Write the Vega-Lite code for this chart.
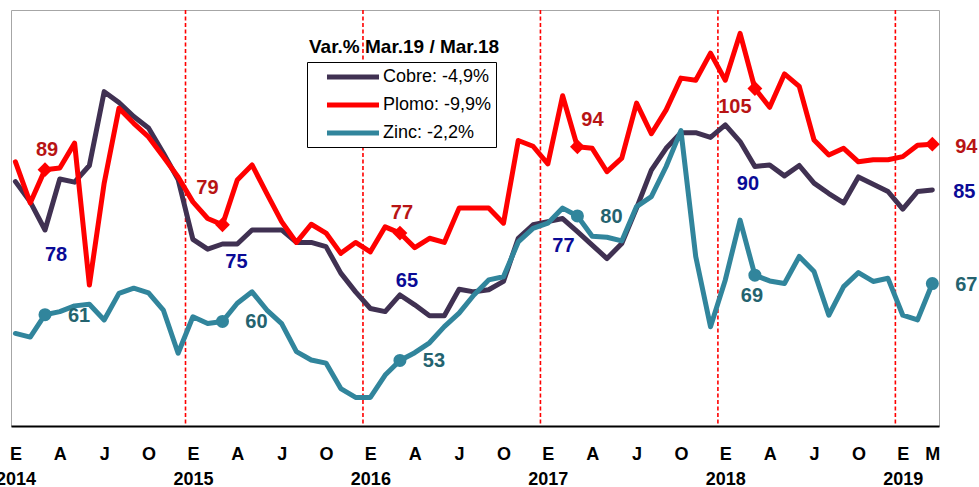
{
  "$schema": "https://vega.github.io/schema/vega-lite/v6.json",
  "width": 928,
  "height": 416,
  "autosize": "none",
  "padding": {"left": 11, "top": 10, "right": 40, "bottom": 61},
  "background": "white",
  "config": {"view": {"stroke": "#a6a6a6", "strokeWidth": 1}, "font": "Liberation Sans"},
  "title": {"text": "Var.% Mar.19 / Mar.18", "anchor": "start", "frame": "group", "orient": "top", "offset": 0, "dx": 298, "dy": 48, "fontSize": 19, "fontWeight": "bold", "color": "black", "font": "Liberation Sans"},
  "datasets": {
    "indices": [
      {"mes": 0, "Cobre": 87.0, "Plomo": 90.8, "Zinc": 57.8},
      {"mes": 1, "Cobre": 83.1, "Plomo": 82.9, "Zinc": 57.1},
      {"mes": 2, "Cobre": 77.7, "Plomo": 89.3, "Zinc": 61.4},
      {"mes": 3, "Cobre": 87.5, "Plomo": 89.6, "Zinc": 62.0},
      {"mes": 4, "Cobre": 86.9, "Plomo": 94.4, "Zinc": 63.1},
      {"mes": 5, "Cobre": 90.1, "Plomo": 67.1, "Zinc": 63.4},
      {"mes": 6, "Cobre": 104.3, "Plomo": 86.7, "Zinc": 60.4},
      {"mes": 7, "Cobre": 102.2, "Plomo": 101.1, "Zinc": 65.5},
      {"mes": 8, "Cobre": 99.5, "Plomo": 98.2, "Zinc": 66.5},
      {"mes": 9, "Cobre": 97.3, "Plomo": 95.6, "Zinc": 65.6},
      {"mes": 10, "Cobre": 92.5, "Plomo": 91.8, "Zinc": 62.3},
      {"mes": 11, "Cobre": 87.4, "Plomo": 87.9, "Zinc": 54.0},
      {"mes": 12, "Cobre": 75.9, "Plomo": 83.1, "Zinc": 61.0},
      {"mes": 13, "Cobre": 74.0, "Plomo": 79.9, "Zinc": 59.7},
      {"mes": 14, "Cobre": 75.0, "Plomo": 78.7, "Zinc": 60.1},
      {"mes": 15, "Cobre": 75.0, "Plomo": 87.3, "Zinc": 63.6},
      {"mes": 16, "Cobre": 77.7, "Plomo": 90.2, "Zinc": 65.8},
      {"mes": 17, "Cobre": 77.7, "Plomo": 84.7, "Zinc": 62.3},
      {"mes": 18, "Cobre": 77.7, "Plomo": 79.3, "Zinc": 59.7},
      {"mes": 19, "Cobre": 75.3, "Plomo": 75.3, "Zinc": 54.3},
      {"mes": 20, "Cobre": 75.3, "Plomo": 78.8, "Zinc": 52.7},
      {"mes": 21, "Cobre": 74.5, "Plomo": 77.1, "Zinc": 52.1},
      {"mes": 22, "Cobre": 69.4, "Plomo": 73.2, "Zinc": 47.2},
      {"mes": 23, "Cobre": 65.8, "Plomo": 75.3, "Zinc": 45.5},
      {"mes": 24, "Cobre": 62.6, "Plomo": 73.5, "Zinc": 45.5},
      {"mes": 25, "Cobre": 62.0, "Plomo": 78.3, "Zinc": 49.8},
      {"mes": 26, "Cobre": 65.2, "Plomo": 77.1, "Zinc": 52.6},
      {"mes": 27, "Cobre": 63.3, "Plomo": 74.3, "Zinc": 54.1},
      {"mes": 28, "Cobre": 61.2, "Plomo": 76.1, "Zinc": 56.0},
      {"mes": 29, "Cobre": 61.2, "Plomo": 75.3, "Zinc": 59.1},
      {"mes": 30, "Cobre": 66.3, "Plomo": 81.9, "Zinc": 61.7},
      {"mes": 31, "Cobre": 65.8, "Plomo": 81.9, "Zinc": 65.2},
      {"mes": 32, "Cobre": 66.2, "Plomo": 81.9, "Zinc": 68.1},
      {"mes": 33, "Cobre": 67.8, "Plomo": 79.0, "Zinc": 68.7},
      {"mes": 34, "Cobre": 76.1, "Plomo": 94.9, "Zinc": 75.4},
      {"mes": 35, "Cobre": 78.7, "Plomo": 93.8, "Zinc": 78.0},
      {"mes": 36, "Cobre": 79.3, "Plomo": 90.4, "Zinc": 79.0},
      {"mes": 37, "Cobre": 79.9, "Plomo": 103.5, "Zinc": 81.9},
      {"mes": 38, "Cobre": 77.4, "Plomo": 93.7, "Zinc": 80.4},
      {"mes": 39, "Cobre": 74.8, "Plomo": 93.4, "Zinc": 76.5},
      {"mes": 40, "Cobre": 72.2, "Plomo": 88.9, "Zinc": 76.3},
      {"mes": 41, "Cobre": 75.1, "Plomo": 91.5, "Zinc": 75.6},
      {"mes": 42, "Cobre": 81.9, "Plomo": 102.1, "Zinc": 82.2},
      {"mes": 43, "Cobre": 89.2, "Plomo": 96.2, "Zinc": 84.1},
      {"mes": 44, "Cobre": 93.4, "Plomo": 100.8, "Zinc": 89.9},
      {"mes": 45, "Cobre": 96.4, "Plomo": 106.9, "Zinc": 96.8},
      {"mes": 46, "Cobre": 96.4, "Plomo": 106.5, "Zinc": 72.6},
      {"mes": 47, "Cobre": 95.5, "Plomo": 111.7, "Zinc": 59.1},
      {"mes": 48, "Cobre": 97.9, "Plomo": 106.5, "Zinc": 68.1},
      {"mes": 49, "Cobre": 94.7, "Plomo": 115.5, "Zinc": 79.6},
      {"mes": 50, "Cobre": 89.9, "Plomo": 104.9, "Zinc": 69.0},
      {"mes": 51, "Cobre": 90.2, "Plomo": 101.3, "Zinc": 67.9},
      {"mes": 52, "Cobre": 88.1, "Plomo": 107.7, "Zinc": 67.4},
      {"mes": 53, "Cobre": 90.1, "Plomo": 105.3, "Zinc": 72.6},
      {"mes": 54, "Cobre": 86.7, "Plomo": 95.0, "Zinc": 69.7},
      {"mes": 55, "Cobre": 84.7, "Plomo": 92.1, "Zinc": 61.3},
      {"mes": 56, "Cobre": 82.9, "Plomo": 93.4, "Zinc": 66.8},
      {"mes": 57, "Cobre": 87.9, "Plomo": 90.8, "Zinc": 69.5},
      {"mes": 58, "Cobre": 86.5, "Plomo": 91.2, "Zinc": 67.8},
      {"mes": 59, "Cobre": 85.1, "Plomo": 91.2, "Zinc": 68.4},
      {"mes": 60, "Cobre": 81.7, "Plomo": 91.8, "Zinc": 61.3},
      {"mes": 61, "Cobre": 85.1, "Plomo": 94.0, "Zinc": 60.4},
      {"mes": 62, "Cobre": 85.4, "Plomo": 94.2, "Zinc": 67.4}
    ],
    "cortes": [{"mes": 11.5}, {"mes": 23.5}, {"mes": 35.5}, {"mes": 47.5}, {"mes": 59.5}]
  },
  "encoding": {
    "x": {
      "field": "mes",
      "type": "quantitative",
      "scale": {"domain": [-0.3, 62.45], "nice": false, "zero": false},
      "axis": {
        "values": [0, 3, 6, 9, 12, 15, 18, 21, 24, 27, 30, 33, 36, 39, 42, 45, 48, 51, 54, 57, 60, 62],
        "labelExpr": "datum.value % 12 == 0 ? ['E', '' + (2014 + datum.value / 12)] : datum.value % 12 == 3 ? 'A' : datum.value % 12 == 6 ? 'J' : datum.value % 12 == 9 ? 'O' : 'M'",
        "title": null,
        "ticks": false,
        "grid": false,
        "domainColor": "black",
        "domainWidth": 2,
        "labelFontSize": 18,
        "labelFontWeight": "bold",
        "labelFont": "Liberation Sans",
        "labelColor": "black",
        "labelPadding": 19,
        "labelLineHeight": 25,
        "labelAngle": 0,
        "labelOverlap": false,
        "labelFlush": false,
        "labelBound": false
      }
    }
  },
  "layer": [
    {
      "data": {"name": "cortes"},
      "mark": {"type": "rule", "color": "#ff0000", "strokeWidth": 1.6, "strokeDash": [4, 2.5]},
      "encoding": {}
    },
    {
      "data": {"name": "indices"},
      "transform": [{"fold": ["Cobre", "Plomo", "Zinc"], "as": ["serie", "valor"]}],
      "encoding": {
        "y": {"field": "valor", "type": "quantitative", "scale": {"domain": [40, 120], "nice": false, "zero": false}, "axis": null}
      },
      "layer": [
        {
          "mark": {"type": "line", "strokeWidth": 5, "strokeJoin": "round", "strokeCap": "round"},
          "encoding": {
            "color": {
              "field": "serie",
              "type": "nominal",
              "scale": {"domain": ["Cobre", "Plomo", "Zinc"], "range": ["#403152", "#ff0000", "#31859c"]},
              "legend": {
                "orient": "none",
                "legendX": 296,
                "legendY": 52,
                "title": null,
                "symbolType": "M-3.06,0H3.06",
                "symbolSize": 289,
                "symbolStrokeWidth": 5,
                "labelFontSize": 18,
                "labelFont": "Liberation Sans",
                "labelColor": "black",
                "labelExpr": "datum.label == 'Cobre' ? 'Cobre: -4,9%' : datum.label == 'Plomo' ? 'Plomo: -9,9%' : 'Zinc: -2,2%'",
                "strokeColor": "black",
                "fillColor": "white",
                "padding": 4,
                "rowPadding": 7,
                "symbolOffset": 31,
                "labelOffset": 19
              }
            }
          }
        },
        {
          "transform": [{"filter": "datum.serie == 'Plomo' && datum.mes % 12 == 2"}],
          "mark": {"type": "point", "shape": "diamond", "filled": true, "size": 220, "color": "#ff0000", "opacity": 1}
        },
        {
          "transform": [{"filter": "datum.serie == 'Zinc' && datum.mes % 12 == 2"}],
          "mark": {"type": "point", "shape": "circle", "filled": true, "size": 170, "color": "#31859c", "opacity": 1}
        },
        {
          "transform": [{"filter": "datum.serie == 'Zinc' && datum.mes % 12 == 2 && datum.mes != 50"}],
          "mark": {"type": "text", "dx": 34, "dy": 1, "fontSize": 20, "fontWeight": "bold", "color": "#24636f", "font": "Liberation Sans"},
          "encoding": {"text": {"field": "valor", "type": "quantitative", "format": ".0f"}}
        },
        {
          "transform": [{"filter": "datum.serie == 'Zinc' && datum.mes == 50"}],
          "mark": {"type": "text", "dx": -3, "dy": 21, "fontSize": 20, "fontWeight": "bold", "color": "#24636f", "font": "Liberation Sans"},
          "encoding": {"text": {"field": "valor", "type": "quantitative", "format": ".0f"}}
        },
        {
          "transform": [{"filter": "datum.serie == 'Plomo' && (datum.mes == 2 || datum.mes == 26)"}],
          "mark": {"type": "text", "dx": 2, "dy": -20, "fontSize": 20, "fontWeight": "bold", "color": "#b81414", "font": "Liberation Sans"},
          "encoding": {"text": {"field": "valor", "type": "quantitative", "format": ".0f"}}
        },
        {
          "transform": [{"filter": "datum.serie == 'Plomo' && datum.mes == 14"}],
          "mark": {"type": "text", "dx": -15, "dy": -37, "fontSize": 20, "fontWeight": "bold", "color": "#b81414", "font": "Liberation Sans"},
          "encoding": {"text": {"field": "valor", "type": "quantitative", "format": ".0f"}}
        },
        {
          "transform": [{"filter": "datum.serie == 'Plomo' && datum.mes == 38"}],
          "mark": {"type": "text", "dx": 15, "dy": -27, "fontSize": 20, "fontWeight": "bold", "color": "#b81414", "font": "Liberation Sans"},
          "encoding": {"text": {"field": "valor", "type": "quantitative", "format": ".0f"}}
        },
        {
          "transform": [{"filter": "datum.serie == 'Plomo' && datum.mes == 50"}],
          "mark": {"type": "text", "dx": -20, "dy": 18, "fontSize": 20, "fontWeight": "bold", "color": "#b81414", "font": "Liberation Sans"},
          "encoding": {"text": {"field": "valor", "type": "quantitative", "format": ".0f"}}
        },
        {
          "transform": [{"filter": "datum.serie == 'Plomo' && datum.mes == 62"}],
          "mark": {"type": "text", "dx": 34, "dy": 3, "fontSize": 20, "fontWeight": "bold", "color": "#b81414", "font": "Liberation Sans"},
          "encoding": {"text": {"field": "valor", "type": "quantitative", "format": ".0f"}}
        },
        {
          "transform": [{"filter": "datum.serie == 'Cobre' && datum.mes == 2"}],
          "mark": {"type": "text", "dx": 11, "dy": 25, "fontSize": 20, "fontWeight": "bold", "color": "#0a0a96", "font": "Liberation Sans"},
          "encoding": {"text": {"field": "valor", "type": "quantitative", "format": ".0f"}}
        },
        {
          "transform": [{"filter": "datum.serie == 'Cobre' && datum.mes == 14"}],
          "mark": {"type": "text", "dx": 14, "dy": 18, "fontSize": 20, "fontWeight": "bold", "color": "#0a0a96", "font": "Liberation Sans"},
          "encoding": {"text": {"field": "valor", "type": "quantitative", "format": ".0f"}}
        },
        {
          "transform": [{"filter": "datum.serie == 'Cobre' && datum.mes == 26"}],
          "mark": {"type": "text", "dx": 7, "dy": -14, "fontSize": 20, "fontWeight": "bold", "color": "#0a0a96", "font": "Liberation Sans"},
          "encoding": {"text": {"field": "valor", "type": "quantitative", "format": ".0f"}}
        },
        {
          "transform": [{"filter": "datum.serie == 'Cobre' && datum.mes == 38"}],
          "mark": {"type": "text", "dx": -14, "dy": 14, "fontSize": 20, "fontWeight": "bold", "color": "#0a0a96", "font": "Liberation Sans"},
          "encoding": {"text": {"field": "valor", "type": "quantitative", "format": ".0f"}}
        },
        {
          "transform": [{"filter": "datum.serie == 'Cobre' && datum.mes == 50"}],
          "mark": {"type": "text", "dx": -7, "dy": 17, "fontSize": 20, "fontWeight": "bold", "color": "#0a0a96", "font": "Liberation Sans"},
          "encoding": {"text": {"field": "valor", "type": "quantitative", "format": ".0f"}}
        },
        {
          "transform": [{"filter": "datum.serie == 'Cobre' && datum.mes == 62"}],
          "mark": {"type": "text", "dx": 32, "dy": 2, "fontSize": 20, "fontWeight": "bold", "color": "#0a0a96", "font": "Liberation Sans"},
          "encoding": {"text": {"field": "valor", "type": "quantitative", "format": ".0f"}}
        }
      ]
    }
  ]
}
